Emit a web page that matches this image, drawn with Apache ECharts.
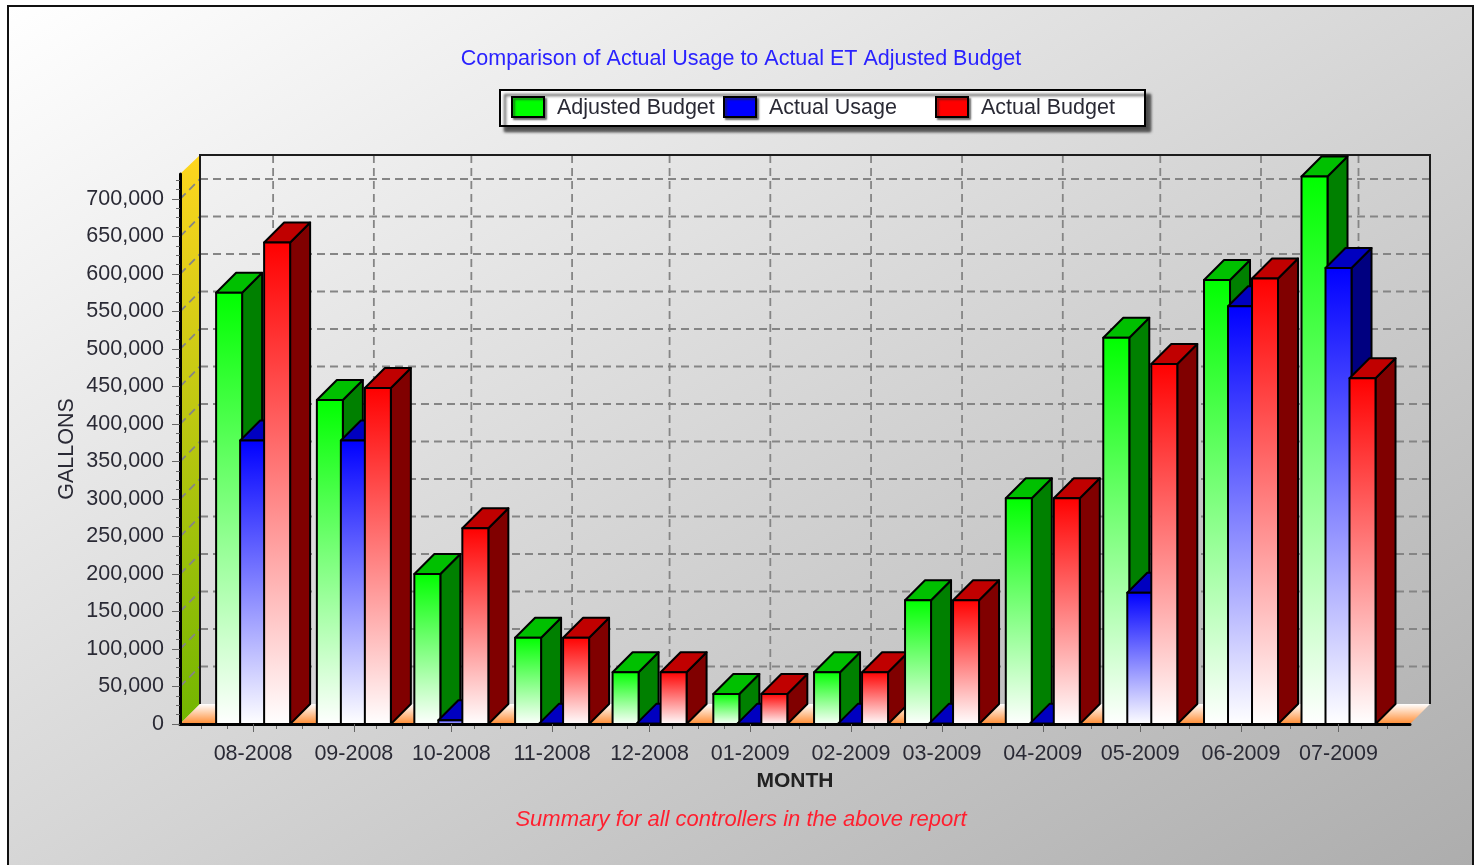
<!DOCTYPE html>
<html>
<head>
<meta charset="utf-8">
<title>Comparison of Actual Usage to Actual ET Adjusted Budget</title>
<script src="https://cdn.jsdelivr.net/npm/echarts@6/dist/echarts.min.js"></script>
<style>
  html, body { margin: 0; padding: 0; background: #fff; }
  #chart { width: 1481px; height: 865px; }
</style>
</head>
<body>
<div id="chart"></div>
<script>
// chart data
var monthLabels = ['08-2008', '09-2008', '10-2008', '11-2008', '12-2008', '01-2009', '02-2009', '03-2009', '04-2009', '05-2009', '06-2009', '07-2009']
var monthDates = ['2008-08-01', '2008-09-01', '2008-10-01', '2008-11-01', '2008-12-01', '2009-01-01', '2009-02-01', '2009-03-01', '2009-04-01', '2009-05-01', '2009-06-01', '2009-07-01']
var adjustedBudget = [575000, 432000, 200000, 115000, 69000, 40000, 69000, 165000, 301000, 515000, 592000, 730000]
var actualUsage = [378000, 378000, 5000, 500, 500, 500, 500, 500, 500, 175000, 557000, 608000]
var actualBudget = [642000, 448000, 261000, 115000, 69000, 40000, 69000, 165000, 301000, 480000, 594000, 461000]
var yTicks = [0, 50000, 100000, 150000, 200000, 250000, 300000, 350000, 400000, 450000, 500000, 550000, 600000, 650000, 700000]

var FONT = '"Liberation Sans", Arial, sans-serif'
var DEPTH = 20 // 3d offset in px
var BAR_W = 26
var BAR_STEP = 24

function ts(s) {
  return +echarts.number.parseDate(s)
}

var monthTimes = monthDates.map(ts)
var xMin = +new Date(2008, 6, 9, 12)
var xMax = +new Date(2009, 6, 23)

// small ticks between the months (weekly marks)
var weekTimes = []
for (var m = 6; m <= 18; m++) {
  [8, 16, 24].forEach(function(d) {
    var t = +new Date(2008, m, d)
    if (t > xMin && t < xMax) weekTimes.push(t)
  })
}

function poly(points, fill, z2) {
  return {
    type: 'polygon',
    z2: z2,
    shape: { points: points },
    style: { fill: fill, stroke: '#000', lineWidth: 2, lineJoin: 'round' }
  }
}

function dashLine(x1, y1, x2, y2) {
  return {
    type: 'line',
    z2: 1,
    shape: { x1: x1, y1: y1, x2: x2, y2: y2 },
    style: { stroke: '#858585', lineWidth: 1.8, lineDash: [8, 5], fill: null }
  }
}

// back wall, side wall and floor behind the bars
function renderWalls(params, api) {
  var cs = params.coordSys
  var left = cs.x
  var right = cs.x + cs.width
  var top = cs.y
  var bottom = cs.y + cs.height
  var wallTop = top - DEPTH + 1
  var children = []

  children.push({
    type: 'polygon',
    z2: 0,
    shape: { points: [[left, bottom], [left + DEPTH, bottom - DEPTH], [left + DEPTH, wallTop], [left, top]] },
    style: {
      fill: new echarts.graphic.LinearGradient(0, 0, 0, 1, [
        { offset: 0, color: '#ffd61f' },
        { offset: 1, color: '#72b600' }
      ])
    }
  })
  children.push({
    type: 'polygon',
    z2: 0,
    shape: { points: [[left, bottom], [right, bottom], [right + DEPTH, bottom - DEPTH], [left + DEPTH, bottom - DEPTH]] },
    style: {
      fill: new echarts.graphic.LinearGradient(0, 0, 0, 1, [
        { offset: 0, color: '#ffffff' },
        { offset: 1, color: '#ff8c32' }
      ])
    }
  })

  yTicks.forEach(function(v) {
    if (v === 0) return
    var p = api.coord([monthTimes[0], v])
    children.push(dashLine(left, p[1], left + DEPTH, p[1] - DEPTH))
    children.push(dashLine(left + DEPTH, p[1] - DEPTH, right + DEPTH, p[1] - DEPTH))
  })
  monthTimes.forEach(function(t) {
    var p = api.coord([t, 0])
    children.push(dashLine(p[0] + DEPTH, wallTop, p[0] + DEPTH, bottom - DEPTH))
  })

  children.push({
    type: 'polyline',
    z2: 2,
    shape: { points: [[left + DEPTH, bottom - DEPTH], [left + DEPTH, wallTop], [right + DEPTH, wallTop], [right + DEPTH, bottom - DEPTH]] },
    style: { stroke: '#1c1c1c', lineWidth: 2, fill: null }
  })
  return { type: 'group', children: children }
}

// one 3d bar, order = 0,1,2 inside a month
function makeBar(order, main, topColor, sideColor) {
  return function(params, api) {
    var p = api.coord([api.value(0), api.value(1)])
    var base = api.coord([api.value(0), 0])
    var x = p[0] + (order - 1) * BAR_STEP - BAR_W / 2
    var y = p[1]
    var y0 = base[1]
    var z = 10 + params.dataIndex * 3 + order
    return {
      type: 'group',
      children: [
        poly([[x + BAR_W, y], [x + BAR_W + DEPTH, y - DEPTH], [x + BAR_W + DEPTH, y0 - DEPTH], [x + BAR_W, y0]], sideColor, z),
        poly([[x, y], [x + DEPTH, y - DEPTH], [x + BAR_W + DEPTH, y - DEPTH], [x + BAR_W, y]], topColor, z),
        poly([[x, y], [x + BAR_W, y], [x + BAR_W, y0], [x, y0]], new echarts.graphic.LinearGradient(0, 0, 0, 1, [
          { offset: 0, color: main },
          { offset: 1, color: '#ffffff' }
        ]), z)
      ]
    }
  }
}

function toSeries(name, values, order, main, topColor, sideColor) {
  return {
    name: name,
    type: 'custom',
    z: 3,
    xAxisIndex: 0,
    yAxisIndex: 0,
    itemStyle: { color: main },
    encode: { x: 0, y: 1 },
    renderItem: makeBar(order, main, topColor, sideColor),
    data: values.map(function(v, i) { return [monthTimes[i], v] })
  }
}

var chart = echarts.init(document.getElementById('chart'))

var textColor = '#2a2a35'
var labelFont = { fontFamily: FONT, fontSize: 21.5, color: textColor }

chart.setOption({
  animation: false,
  backgroundColor: '#fff',
  graphic: [{
    type: 'rect',
    z: -10,
    silent: true,
    shape: { x: 8, y: 6, width: 1465, height: 900 },
    style: {
      fill: new echarts.graphic.LinearGradient(8, 6, 759, 1285, [
        { offset: 0, color: '#ffffff' },
        { offset: 1, color: '#adadad' }
      ], true),
      stroke: '#111',
      lineWidth: 2
    }
  }],
  title: [
    {
      text: 'Comparison of Actual Usage to Actual ET Adjusted Budget',
      left: 736,
      top: 43,
      textAlign: 'center',
      textStyle: { fontFamily: FONT, fontSize: 21.5, fontWeight: 'normal', color: '#2a22ff' }
    },
    {
      text: 'Summary for all controllers in the above report',
      left: 736,
      top: 804,
      textAlign: 'center',
      textStyle: { fontFamily: FONT, fontSize: 22, fontWeight: 'normal', fontStyle: 'italic', color: '#ff1f2f' }
    }
  ],
  legend: {
    left: 500,
    top: 90,
    orient: 'horizontal',
    selectedMode: false,
    icon: 'rect',
    itemWidth: 32,
    itemHeight: 20,
    itemGap: 6,
    padding: [5, 4, 7, 11],
    backgroundColor: '#fff',
    borderColor: '#000',
    borderWidth: 2,
    shadowColor: 'rgba(40,40,40,0.8)',
    shadowBlur: 3,
    shadowOffsetX: 5,
    shadowOffsetY: 5,
    itemStyle: {
      borderColor: '#000',
      borderWidth: 2,
      shadowColor: 'rgba(40,40,40,0.6)',
      shadowBlur: 2,
      shadowOffsetX: 2,
      shadowOffsetY: 2
    },
    formatter: function(name) {
      return '{a|' + name + '}'
    },
    textStyle: {
      rich: {
        a: { width: 160, padding: [2, 0, 0, 8], lineHeight: 20, fontFamily: FONT, fontSize: 21.5, color: textColor }
      }
    },
    data: ['Adjusted Budget', 'Actual Usage', 'Actual Budget']
  },
  grid: { left: 180, top: 174, width: 1230, height: 550 },
  xAxis: [
    {
      type: 'value',
      z: 5,
      min: xMin,
      max: xMax,
      name: 'MONTH',
      nameLocation: 'middle',
      nameGap: 47,
      nameMoveOverlap: false,
      nameTextStyle: { fontFamily: FONT, fontSize: 21, fontWeight: 'bold', color: '#222' },
      axisLine: { lineStyle: { color: '#000', width: 3 } },
      axisTick: { customValues: monthTimes, length: 8, lineStyle: { color: '#666', width: 1 } },
      axisLabel: {
        customValues: monthTimes,
        margin: 19,
        fontFamily: FONT,
        fontSize: 21.5,
        color: textColor,
        formatter: function(value) {
          return monthLabels[monthTimes.indexOf(value)]
        }
      },
      splitLine: { show: false }
    },
    {
      type: 'value',
      z: 4,
      min: xMin,
      max: xMax,
      position: 'bottom',
      axisLine: { show: false },
      axisTick: { customValues: weekTimes, length: 5, lineStyle: { color: '#666', width: 1 } },
      axisLabel: { show: false },
      splitLine: { show: false }
    }
  ],
  yAxis: [{
    type: 'value',
    z: 5,
    min: 0,
    max: 733333,
    interval: 50000,
    name: 'GALLONS',
    nameLocation: 'middle',
    nameRotate: 90,
    nameGap: 102,
    nameMoveOverlap: false,
    nameTextStyle: labelFont,
    axisLine: { show: true, lineStyle: { color: '#000', width: 3 } },
    axisTick: { show: true, customValues: yTicks, length: 8, lineStyle: { color: '#666', width: 1 } },
    minorTick: { show: true, splitNumber: 4, length: 4, lineStyle: { color: '#666', width: 1 } },
    axisLabel: {
      customValues: yTicks,
      margin: 16,
      fontFamily: FONT,
      fontSize: 21.5,
      color: textColor,
      formatter: function(value) {
        return value.toLocaleString('en-US')
      }
    },
    splitLine: { show: false },
    minorSplitLine: { show: false }
  }],
  series: [
    {
      name: 'walls',
      type: 'custom',
      z: 1,
      silent: true,
      encode: { x: 0, y: 1 },
      renderItem: renderWalls,
      data: [[monthTimes[0], 0]]
    },
    toSeries('Adjusted Budget', adjustedBudget, 0, '#00ff00', '#00c000', '#008000'),
    toSeries('Actual Usage', actualUsage, 1, '#0000ff', '#0000c0', '#000080'),
    toSeries('Actual Budget', actualBudget, 2, '#ff0000', '#c00000', '#800000')
  ]
})
</script>
</body>
</html>
